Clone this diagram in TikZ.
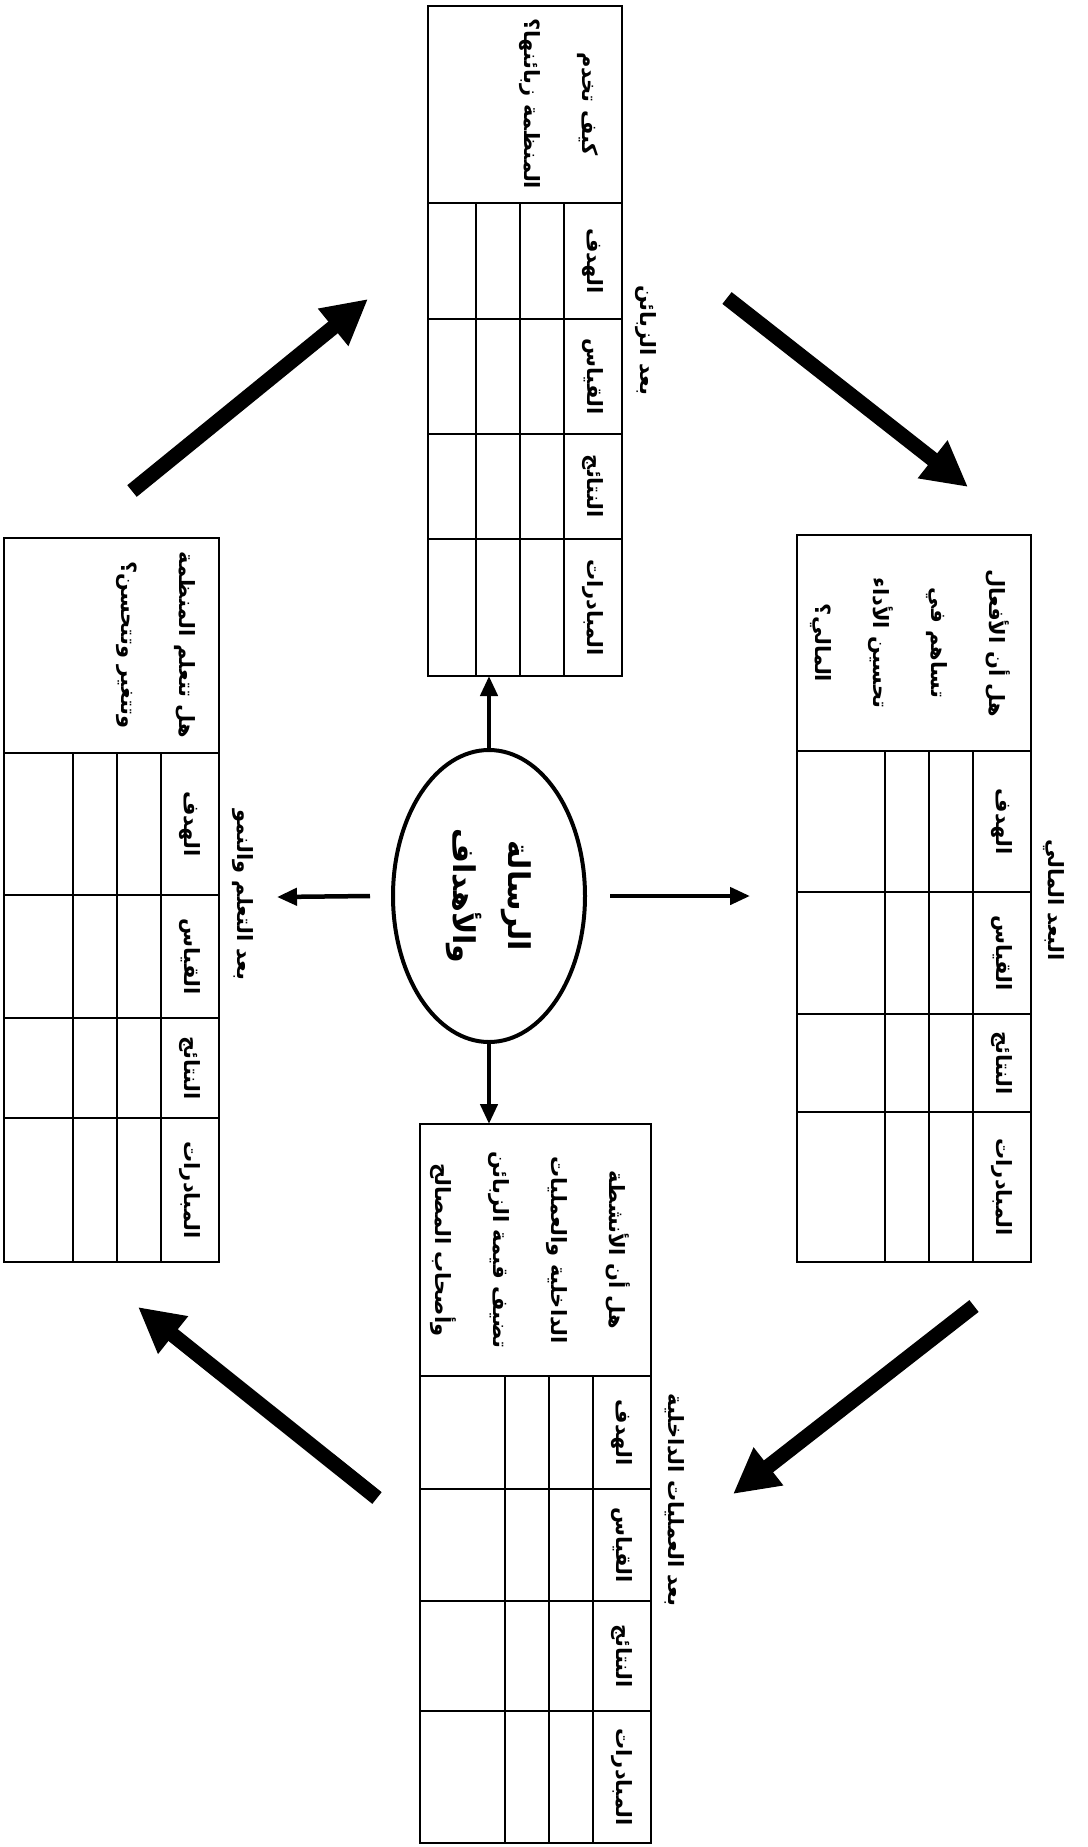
\documentclass[tikz,border=0pt]{standalone}
\usepackage{fontspec}
\usetikzlibrary{arrows.meta,shapes.geometric}
\TeXXeTstate=1
\newfontfamily\arabicfont[Script=Arabic]{DejaVu Sans}
\newcommand{\arb}[1]{\beginR #1\endR}
\tikzset{
  tblbox/.style={draw, line width=1.2pt, rectangle, inner sep=0pt, outer sep=0pt},
  tblline/.style={line width=1.2pt},
  lbl/.style={rotate=-90, inner sep=0pt, font=\arabicfont\bfseries\fontsize{21}{26}\selectfont},
  qtext/.style={rotate=-90, inner sep=0pt, align=center, font=\arabicfont\bfseries\fontsize{21}{58}\selectfont},
  hdr/.style={rotate=-90, inner sep=0pt, font=\arabicfont\bfseries\fontsize{21}{26}\selectfont},
  bigarrow/.style={line width=15pt, -{Triangle[length=45pt,width=45pt]}},
  smallarrow/.style={line width=4.5pt, -{Triangle[length=20pt,width=17pt]}},
}
% #1 name, #2 x0, #3 x1, #4 y0, #5 yq, #6 r1, #7 r2, #8 r3, #9 y1
\newcommand{\bsctable}[9]{%
  \node[tblbox, minimum width={(#3-#2)*1pt}, minimum height={(#9-#4)*1pt}, anchor=north west] (#1) at (#2,#4) {};
  \draw[tblline] (#2,#5) -- (#3,#5);
  \draw[tblline] (#2,#6) -- (#3,#6);
  \draw[tblline] (#2,#7) -- (#3,#7);
  \draw[tblline] (#2,#8) -- (#3,#8);
  \draw[tblline] (#3-58,#5) -- (#3-58,#9);
  \draw[tblline] (#3-102,#5) -- (#3-102,#9);
  \draw[tblline] (#3-146,#5) -- (#3-146,#9);
  \node[lbl] (#1-goal) at (#3-29,{(#5+#6)/2}) {\arb{الهدف}};
  \node[lbl] (#1-meas) at (#3-29,{(#6+#7)/2}) {\arb{القياس}};
  \node[lbl] (#1-res) at (#3-29,{(#7+#8)/2}) {\arb{النتائج}};
  \node[lbl] (#1-init) at (#3-29,{(#8+#9)/2}) {\arb{المبادرات}};
}
\begin{document}
\begin{tikzpicture}[x=1pt,y=-1pt]
\useasboundingbox (0,0) rectangle (1087,1847);
% tables
\bsctable{cust}{428}{622}{6}{203}{319}{434}{539}{676}
\bsctable{fin}{797}{1031}{535}{751}{892}{1014}{1112}{1262}
\bsctable{learn}{4}{219}{538}{753}{895}{1018}{1118}{1262}
\bsctable{proc}{420}{651}{1124}{1376}{1489}{1601}{1711}{1843}
% questions
\node[qtext] (custq) at (559,104) {\arb{كيف تخدم}\\\arb{المنظمة زبائنها؟}};
\node[qtext] (finq) at (910,643) {\arb{هل أن الأفعال}\\\arb{تساهم في}\\\arb{تحسين الأداء}\\\arb{المالي؟}};
\node[qtext] (learnq) at (156,645) {\arb{هل تتعلم المنظمة}\\\arb{وتتغير وتتحسن؟}};
\node[qtext] (procq) at (530,1250) {\arb{هل أن الأنشطة}\\\arb{الداخلية والعمليات}\\\arb{تضيف قيمة الزبائن}\\\arb{وأصحاب المصالح}};
% headers
\node[hdr] (custh) at (646,340) {\arb{بعد الزبائن}};
\node[hdr] (finh) at (1054,900) {\arb{البعد المالي}};
\node[hdr] (learnh) at (243,895) {\arb{بعد التعلم والنمو}};
\node[hdr] (proch) at (675,1500) {\arb{بعد العمليات الداخلية}};
% center ellipse
\node[ellipse, draw, line width=4pt, rotate=-90, minimum width=292pt, minimum height=192pt, inner sep=0pt, align=center,
      font=\arabicfont\bfseries\fontsize{30}{55}\selectfont] (mission) at (489,896) {\arb{الرسالة}\\\arb{والأهداف}};
% small arrows
\coordinate (lefttip) at (277,897);
\coordinate (righttip) at (750,896);
\draw[smallarrow] (mission.west) -- (mission.west |- cust.south);
\draw[smallarrow] (mission.east) -- (mission.east |- proc.north);
\draw[smallarrow] ([xshift=-21pt]mission.south) -- (lefttip);
\draw[smallarrow] ([xshift=23pt]mission.north) -- (righttip);
% big cycle arrows
\coordinate (b1s) at (132,491); \coordinate (b1e) at (368,299);
\coordinate (b2s) at (727,298); \coordinate (b2e) at (968,487);
\coordinate (b3s) at (974,1306); \coordinate (b3e) at (733,1494);
\coordinate (b4s) at (377,1498); \coordinate (b4e) at (138,1307);
\draw[bigarrow] (b1s) -- (b1e);
\draw[bigarrow] (b2s) -- (b2e);
\draw[bigarrow] (b3s) -- (b3e);
\draw[bigarrow] (b4s) -- (b4e);
\end{tikzpicture}
\end{document}
